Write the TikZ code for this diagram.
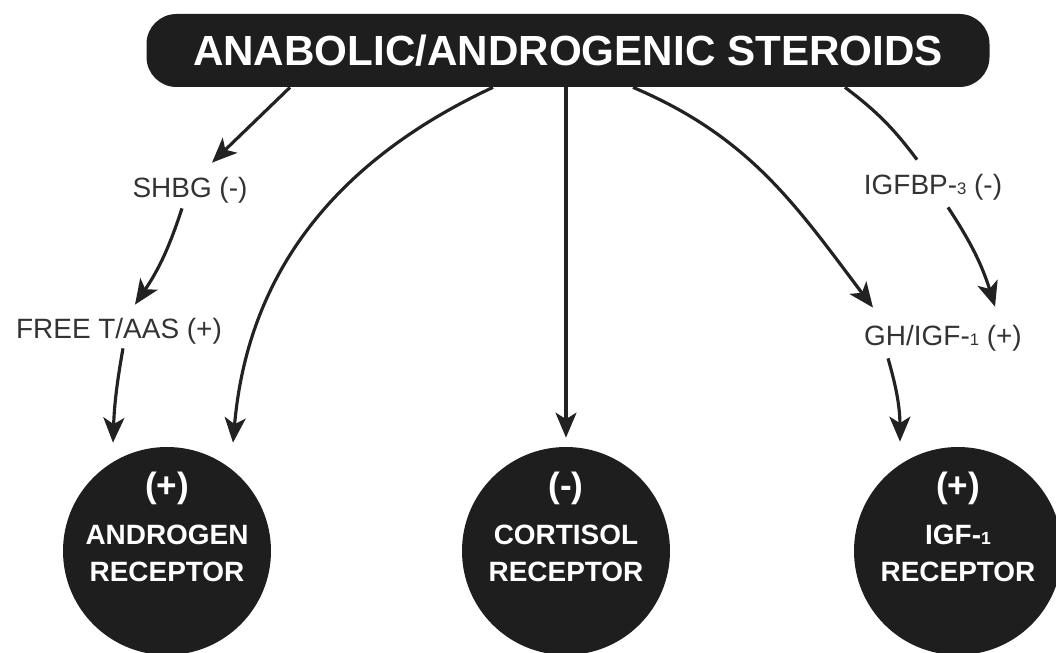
\documentclass[tikz,border=0pt]{standalone}
\usepackage{fontspec}
\setmainfont{Liberation Sans}
\usetikzlibrary{arrows.meta}
\definecolor{boxfill}{HTML}{1E1E1E}
\definecolor{linegray}{HTML}{222222}
\definecolor{labelgray}{HTML}{333333}
\newcommand{\lowdigit}[1]{{\fontsize{9.5}{10}\selectfont #1}}

\begin{document}
\begin{tikzpicture}[
  arrowline/.style={-{Stealth[length=0.50cm,width=0.42cm,inset=0.13cm]},
    line width=1.8pt, draw=linegray},
  plainline/.style={line width=1.8pt, draw=linegray},
  label/.style={inner sep=0pt, text=labelgray,
    font=\fontsize{15.9}{18}\selectfont},
  receptor/.style={circle, fill=boxfill, minimum size=4.16cm, inner sep=0pt},
  rtext/.style={align=center, text=white,
    font=\bfseries\fontsize{15.9}{21}\selectfont}
]

\useasboundingbox (0,0) rectangle (21.12,13.04);

% ── Header bar ────────────────────────────────────────────────
\node[fill=boxfill, rounded corners=0.6cm, minimum width=16.86cm,
      minimum height=1.46cm, text=white,
      font=\bfseries\fontsize{24}{28}\selectfont]
      (steroids) at (11.36, 12.03) {ANABOLIC/ANDROGENIC STEROIDS};

% ── Intermediate labels ───────────────────────────────────────
\node[label] (shbg)  at (3.80, 9.24)  {SHBG (-)};
\node[label] (freet) at (2.38, 6.42)  {FREE T/AAS (+)};
\node[label] (igfbp) at (18.66, 9.30) {IGFBP-\lowdigit{3} (-)};
\node[label] (ghigf) at (18.86, 6.28) {GH/IGF-\lowdigit{1} (+)};

% ── Receptors ─────────────────────────────────────────────────
\node[receptor] (androgen) at (3.34, 2.02)  {};
\node[receptor] (cortisol) at (11.32, 2.02) {};
\node[receptor] (igfone)   at (19.16, 2.02) {};
\node[rtext] (androgentxt) at ([yshift=0.48cm]androgen.center)
    {{\fontsize{20}{21}\selectfont(+)}\\[6pt]ANDROGEN\\RECEPTOR};
\node[rtext] (cortisoltxt) at ([yshift=0.48cm]cortisol.center)
    {{\fontsize{20}{21}\selectfont(-)}\\[6pt]CORTISOL\\RECEPTOR};
\node[rtext] (igfonetxt) at ([yshift=0.48cm]igfone.center)
    {{\fontsize{20}{21}\selectfont(+)}\\[6pt]IGF-{\fontsize{10}{10}\selectfont 1}\\RECEPTOR};

% ── Left branch: SHBG and free T ──────────────────────────────
\draw[arrowline] ([xshift=-5.56cm]steroids.south)
    -- ([xshift=0.44cm,yshift=0.28cm]shbg.north);
\draw[arrowline] ([xshift=-0.16cm,yshift=-0.10cm]shbg.south)
    to[bend left=8] ([xshift=0.32cm,yshift=0.26cm]freet.north);
\draw[arrowline] ([xshift=0.08cm,yshift=-0.08cm]freet.south)
    to[bend right=4] ([xshift=-1.08cm,yshift=0.08cm]androgen.north);
% direct path
\draw[arrowline] ([xshift=-1.50cm]steroids.south)
    to[out=205,in=85] ([xshift=1.32cm,yshift=0.08cm]androgen.north);

% ── Middle: cortisol ──────────────────────────────────────────
\draw[arrowline, shorten >=0.18cm] (steroids.south -| cortisol.north)
    -- (cortisol.north);

% ── Right branch: IGFBP-3 and GH/IGF-1 ────────────────────────
\draw[arrowline] ([xshift=1.30cm]steroids.south)
    to[out=-23,in=127] ([xshift=-1.40cm,yshift=0.34cm]ghigf.north);
\draw[plainline] ([xshift=5.54cm]steroids.south)
    to[bend left=8] ([xshift=-0.32cm,yshift=0.28cm]igfbp.north);
\draw[arrowline] ([xshift=0.30cm,yshift=-0.14cm]igfbp.south)
    to[bend left=8] ([xshift=1.04cm,yshift=0.36cm]ghigf.north);
\draw[arrowline] ([xshift=-1.10cm,yshift=-0.14cm]ghigf.south)
    to[bend left=8] ([xshift=-1.16cm,yshift=0.10cm]igfone.north);

\end{tikzpicture}
\end{document}
